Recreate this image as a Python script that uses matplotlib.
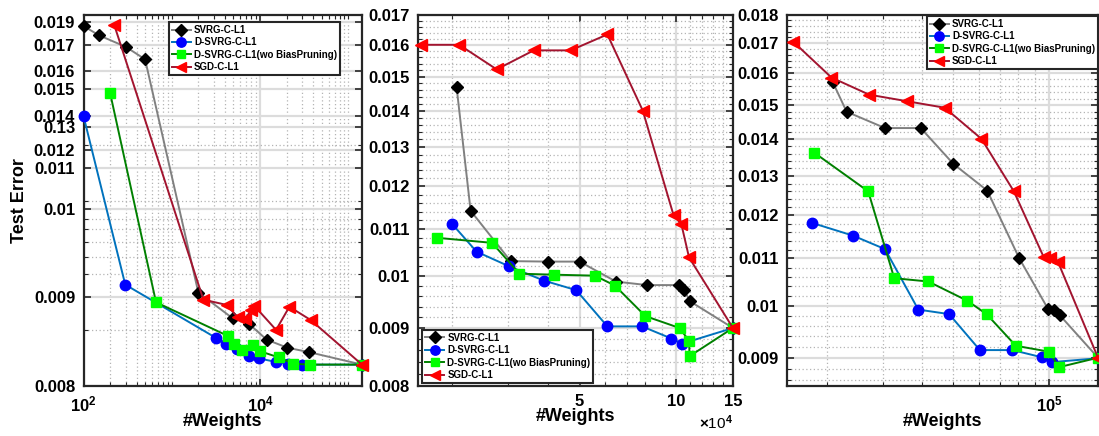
import numpy as np
import matplotlib
matplotlib.use('Agg')
import matplotlib.pyplot as plt
from matplotlib.ticker import FixedLocator, FixedFormatter, NullFormatter

# ---- data ----
methods = ['SVRG-C-L1', 'D-SVRG-C-L1', 'D-SVRG-C-L1(wo BiasPruning)', 'SGD-C-L1']

# left panel
left_x_svrg = [100, 150, 301, 498, 2000, 4900, 7450, 11900, 20400, 35900, 143000]
left_y_svrg = [0.01865, 0.01784, 0.01693, 0.01645, 0.00905, 0.00876, 0.0087, 0.00852, 0.00843, 0.00838, 0.00824]
left_x_dsvrg = [100, 297, 3170, 4120, 5450, 7450, 9670, 15200, 20600, 29700, 143000]
left_y_dsvrg = [0.01398, 0.00914, 0.00854, 0.00847, 0.00842, 0.00834, 0.00831, 0.00827, 0.00825, 0.00824, 0.00824]
left_x_dsvrg_wo = [200, 663, 4370, 5120, 6210, 8270, 10000, 16400, 23800, 36900, 143000]
left_y_dsvrg_wo = [0.01486, 0.00894, 0.00856, 0.00847, 0.0084, 0.00846, 0.00839, 0.00832, 0.00825, 0.00824, 0.00824]
left_x_sgd = [223, 2280, 4190, 5590, 6760, 7900, 8620, 15200, 21500, 37600, 143000]
left_y_sgd = [0.01874, 0.00897, 0.00891, 0.00877, 0.00875, 0.00885, 0.0089, 0.00863, 0.00889, 0.00874, 0.00824]

# middle panel
mid_x_svrg = [20700, 22900, 30500, 39800, 50000, 64900, 81100, 101700, 105600, 110400, 150000]
mid_y_svrg = [0.0147, 0.01142, 0.01031, 0.0103, 0.0103, 0.00989, 0.00982, 0.00982, 0.00972, 0.0095, 0.009]
mid_x_dsvrg = [20100, 23900, 30200, 38700, 48800, 61000, 78200, 96500, 104400, 150000]
mid_y_dsvrg = [0.01111, 0.01051, 0.0102, 0.00991, 0.00972, 0.00903, 0.00903, 0.00881, 0.00872, 0.009]
mid_x_dsvrg_wo = [18000, 26700, 32500, 41500, 55800, 64400, 80100, 102400, 109500, 110000, 150000]
mid_y_dsvrg_wo = [0.01081, 0.0107, 0.01005, 0.01003, 0.01001, 0.00981, 0.00922, 0.009, 0.00877, 0.0085, 0.009]
mid_x_sgd = [16100, 21100, 27600, 36000, 46900, 61000, 78600, 98000, 103700, 109500, 150000]
mid_y_sgd = [0.016, 0.016, 0.01522, 0.01582, 0.01582, 0.01634, 0.014, 0.01132, 0.01111, 0.01039, 0.009]

# right panel
right_x_svrg = [20900, 23100, 30500, 39500, 50000, 63900, 80500, 99300, 103500, 108000, 142500]
right_y_svrg = [0.01571, 0.0148, 0.01432, 0.01432, 0.01332, 0.01262, 0.01101, 0.00993, 0.00991, 0.00981, 0.009]
right_x_dsvrg = [18000, 24200, 30500, 38800, 48500, 60600, 76700, 94700, 102000, 142500]
right_y_dsvrg = [0.01182, 0.01152, 0.01121, 0.00992, 0.00983, 0.00914, 0.00914, 0.00901, 0.00892, 0.00899]
right_x_dsvrg_wo = [18300, 27000, 32600, 41700, 55300, 63600, 78600, 100000, 107500, 142500]
right_y_dsvrg_wo = [0.01362, 0.0126, 0.01057, 0.0105, 0.0101, 0.00983, 0.00922, 0.00911, 0.00883, 0.009]
right_x_sgd = [15700, 20700, 27200, 35700, 47000, 61300, 77500, 96200, 100500, 106700, 142500]
right_y_sgd = [0.01705, 0.01586, 0.01532, 0.01512, 0.01492, 0.01401, 0.0126, 0.01103, 0.011, 0.01092, 0.009]

# left panel y tick labels (as printed in the figure)
left_tick_vals = [0.008, 0.009, 0.010, 0.011, 0.012, 0.013, 0.014, 0.015, 0.016, 0.017, 0.019]
left_tick_labels = ['0.008', '0.009', '0.01', '0.011', '0.012', '0.13', '0.014', '0.015', '0.016', '0.017', '0.019']

# ---- style ----
plt.rcParams['font.family'] = ['Liberation Sans', 'DejaVu Sans']
plt.rcParams['font.weight'] = 'bold'
plt.rcParams['mathtext.fontset'] = 'custom'
plt.rcParams['mathtext.rm'] = 'Liberation Sans:bold'
plt.rcParams['mathtext.bf'] = 'Liberation Sans:bold'
plt.rcParams['mathtext.it'] = 'Liberation Sans:bold'

styles = [
    dict(color='#808080', marker='D', mfc='k', mec='k', ms=6.5),
    dict(color='#0072BD', marker='o', mfc='#0000FF', mec='#0000FF', ms=7.5),
    dict(color='#008000', marker='s', mfc='#00FF00', mec='#00FF00', ms=6.5),
    dict(color='#A2142F', marker='<', mfc='#FF0000', mec='#FF0000', ms=8.5),
]


def style_axes(ax):
    ax.set_axisbelow(True)
    ax.grid(which='major', color='#dcdcdc', lw=1.6, ls='-')
    ax.grid(which='minor', color='#b4b4b4', lw=0.9, ls=(0, (1, 2)))
    for s in ax.spines.values():
        s.set_linewidth(1.6)
        s.set_color('#262626')
    ax.tick_params(which='both', direction='in', top=True, right=True, color='#262626')
    ax.tick_params(which='major', length=5, width=1.2, labelsize=12, pad=6)
    ax.tick_params(which='minor', length=3, width=0.8)


def draw(ax, xs, ys):
    for x, y, st, name in zip(xs, ys, styles, methods):
        ax.plot(x, y, lw=1.4, label=name, clip_on=False, zorder=3, **st)


def add_legend(ax, loc, anchor):
    leg = ax.legend(loc=loc, bbox_to_anchor=anchor, fontsize=7, fancybox=False, framealpha=1,
                    edgecolor='#262626', borderaxespad=0, handlelength=2.0, handletextpad=0.3,
                    labelspacing=0.25, borderpad=0.3, markerscale=0.9)
    leg.get_frame().set_linewidth(1.5)
    for t in leg.get_texts():
        t.set_fontweight('bold')


fig = plt.figure(figsize=(10.99, 4.36), dpi=100)
ax1 = fig.add_axes([0.076, 0.1147, 0.2534, 0.851])
ax2 = fig.add_axes([0.3803, 0.1147, 0.2866, 0.851])
ax3 = fig.add_axes([0.7161, 0.1147, 0.283, 0.851])

# left: y ticks are placed irregularly in the original figure
tick_frac = [0.0, 0.240, 0.477, 0.588, 0.636, 0.698, 0.728, 0.800, 0.849, 0.919, 0.981, 1.0]
scale_vals = left_tick_vals + [0.0196]
fwd = lambda v: np.interp(v, scale_vals, tick_frac)
inv = lambda f: np.interp(f, tick_frac, scale_vals)
ax1.set_yscale('function', functions=(fwd, inv))
ax1.set_xscale('log')
draw(ax1, [left_x_svrg, left_x_dsvrg, left_x_dsvrg_wo, left_x_sgd],
     [left_y_svrg, left_y_dsvrg, left_y_dsvrg_wo, left_y_sgd])
ax1.set_xlim(100, 143000)
ax1.set_ylim(0.008, 0.0196)
ax1.yaxis.set_major_locator(FixedLocator(left_tick_vals))
ax1.yaxis.set_major_formatter(FixedFormatter(left_tick_labels))
ax1.yaxis.set_minor_locator(FixedLocator([0.00863, 0.00926, 0.00945, 0.00962, 0.00977, 0.00989, 0.0102, 0.01222]))
ax1.xaxis.set_major_locator(FixedLocator([1e2, 1e4]))
ax1.xaxis.set_major_formatter(FixedFormatter([r'$10^{2}$', r'$10^{4}$']))
minx = [m * 10.0 ** k for k in range(2, 6) for m in range(1, 10)]
ax1.xaxis.set_minor_locator(FixedLocator([v for v in minx if v not in (1e2, 1e4)]))
ax1.xaxis.set_minor_formatter(NullFormatter())
style_axes(ax1)
ax1.set_xlabel('#Weights', fontsize=13, fontweight='bold', labelpad=-1)
ax1.set_ylabel('Test Error', fontsize=13, fontweight='bold', labelpad=4)
add_legend(ax1, 'upper right', (0.921, 0.981))

# middle
ax2.set_xscale('log')
ax2.set_yscale('log')
draw(ax2, [mid_x_svrg, mid_x_dsvrg, mid_x_dsvrg_wo, mid_x_sgd],
     [mid_y_svrg, mid_y_dsvrg, mid_y_dsvrg_wo, mid_y_sgd])
ax2.set_xlim(15700, 150000)
ax2.set_ylim(0.008, 0.017)
yt = [0.008 + 0.001 * i for i in range(10)]
ax2.yaxis.set_major_locator(FixedLocator(yt))
ax2.yaxis.set_major_formatter(FixedFormatter(['%g' % round(v, 3) for v in yt]))
ax2.yaxis.set_minor_locator(FixedLocator([0.008 + 0.0002 * i for i in range(46)]))
ax2.yaxis.set_minor_formatter(NullFormatter())
ax2.xaxis.set_major_locator(FixedLocator([5e4, 10e4, 15e4]))
ax2.xaxis.set_major_formatter(FixedFormatter(['5', '10', '15']))
ax2.xaxis.set_minor_locator(FixedLocator([i * 1e4 for i in range(2, 15) if i not in (5, 10)]))
ax2.xaxis.set_minor_formatter(NullFormatter())
style_axes(ax2)
ax2.set_xlabel('#Weights', fontsize=13, fontweight='bold', labelpad=-1)
ax2.text(1.0, -0.1, r'$\times$10$^{4}$', transform=ax2.transAxes, ha='right', va='center',
         fontsize=11, fontweight='normal')
add_legend(ax2, 'lower left', (0.013, 0.008))

# right
ax3.set_xscale('log')
ax3.set_yscale('log')
draw(ax3, [right_x_svrg, right_x_dsvrg, right_x_dsvrg_wo, right_x_sgd],
     [right_y_svrg, right_y_dsvrg, right_y_dsvrg_wo, right_y_sgd])
ax3.set_xlim(15000, 142500)
ax3.set_ylim(0.0085, 0.018)
yt = [0.009 + 0.001 * i for i in range(10)]
ax3.yaxis.set_major_locator(FixedLocator(yt))
ax3.yaxis.set_major_formatter(FixedFormatter(['%g' % round(v, 3) for v in yt]))
ax3.yaxis.set_minor_locator(FixedLocator([0.0086 + 0.0002 * i for i in range(48)]))
ax3.yaxis.set_minor_formatter(NullFormatter())
ax3.xaxis.set_major_locator(FixedLocator([1e5]))
ax3.xaxis.set_major_formatter(FixedFormatter([r'$10^{5}$']))
ax3.xaxis.set_minor_locator(FixedLocator([i * 1e4 for i in range(2, 10)]))
ax3.xaxis.set_minor_formatter(NullFormatter())
style_axes(ax3)
ax3.set_xlabel('#Weights', fontsize=13, fontweight='bold', labelpad=-1)
add_legend(ax3, 'upper right', (1.0, 0.997))

fig.savefig('out.png', dpi=100)
